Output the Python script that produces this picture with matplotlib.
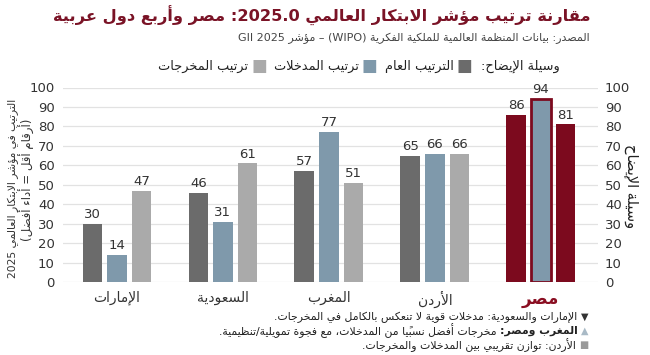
import matplotlib
matplotlib.use('Agg')
import matplotlib.pyplot as plt
import numpy as np

# ---------------- data ----------------
countries = ['الإمارات', 'السعودية', 'المغرب', 'الأردن', 'مصر']
overall = [30, 46, 57, 65, 86]
inputs = [14, 31, 77, 66, 94]
outputs = [47, 61, 51, 66, 81]
series_names = ['الترتيب العام', 'ترتيب المدخلات', 'ترتيب المخرجات']
yticks = [0, 10, 20, 30, 40, 50, 60, 70, 80, 90, 100]
title = 'مقارنة ترتيب مؤشر الابتكار العالمي 2025.0: مصر وأربع دول عربية'
subtitle = 'المصدر: بيانات المنظمة العالمية للملكية الفكرية (WIPO) – مؤشر GII 2025'
legend_title = 'وسيلة الإيضاح:'
ylabel_main = 'الترتيب في مؤشر الابتكار العالمي 2025'
ylabel_sub = '(أرقام أقل = أداء أفضل)'
right_label = 'وسيلة الإيضاح'
note_marks = ['▼', '▲', '■']
note_bold = ['', 'المغرب ومصر:', '']
note_text = ['الإمارات والسعودية: مدخلات قوية لا تنعكس بالكامل في المخرجات.',
             'مخرجات أفضل نسبيًا من المدخلات، مع فجوة تمويلية/تنظيمية.',
             'الأردن: توازن تقريبي بين المدخلات والمخرجات.']

# ---------------- colours ----------------
C_DARK = '#6b6b6b'
C_BLUE = '#7f99ab'
C_LIGHT = '#aaaaaa'
C_RED = '#7c0a1e'
C_TITLE = '#7a1326'
C_TEXT = '#333333'
note_colors = ['#333333', '#a9bac6', '#9a9a9a']

# ---------------- minimal Arabic shaping + bidi ----------------
DUAL = {'\u0626': 0xFE89, '\u0628': 0xFE8F, '\u062A': 0xFE95, '\u062B': 0xFE99,
        '\u062C': 0xFE9D, '\u062D': 0xFEA1, '\u062E': 0xFEA5, '\u0633': 0xFEB1,
        '\u0634': 0xFEB5, '\u0635': 0xFEB9, '\u0636': 0xFEBD, '\u0637': 0xFEC1,
        '\u0638': 0xFEC5, '\u0639': 0xFEC9, '\u063A': 0xFECD, '\u0641': 0xFED1,
        '\u0642': 0xFED5, '\u0643': 0xFED9, '\u0644': 0xFEDD, '\u0645': 0xFEE1,
        '\u0646': 0xFEE5, '\u0647': 0xFEE9, '\u064A': 0xFEF1}
RIGHT = {'\u0622': 0xFE81, '\u0623': 0xFE83, '\u0624': 0xFE85, '\u0625': 0xFE87,
         '\u0627': 0xFE8D, '\u0629': 0xFE93, '\u062F': 0xFEA9, '\u0630': 0xFEAB,
         '\u0631': 0xFEAD, '\u0632': 0xFEAF, '\u0648': 0xFEED, '\u0649': 0xFEEF}
LAMALEF = {'\u0622': 0xFEF5, '\u0623': 0xFEF7, '\u0625': 0xFEF9, '\u0627': 0xFEFB}


def _jt(c):
    if c in DUAL:
        return 'D'
    if c in RIGHT:
        return 'R'
    if 0x064B <= ord(c) <= 0x065F or c == '\u0670':
        return 'T'
    return 'U'


def _shape(s):
    n = len(s)
    res = []
    i = 0
    while i < n:
        c = s[i]
        t = _jt(c)
        if t in 'DR':
            j = i - 1
            while j >= 0 and _jt(s[j]) == 'T':
                j -= 1
            prev_join = j >= 0 and _jt(s[j]) == 'D'
            k = i + 1
            while k < n and _jt(s[k]) == 'T':
                k += 1
            if c == '\u0644' and k < n and s[k] in LAMALEF:
                res.append(chr(LAMALEF[s[k]] + (1 if prev_join else 0)))
                res.extend(s[i + 1:k])
                i = k + 1
                continue
            next_join = t == 'D' and k < n and _jt(s[k]) in 'DR'
            if t == 'R':
                res.append(chr(RIGHT[c] + (1 if prev_join else 0)))
            else:
                b = DUAL[c]
                if prev_join and next_join:
                    res.append(chr(b + 3))
                elif prev_join:
                    res.append(chr(b + 1))
                elif next_join:
                    res.append(chr(b + 2))
                else:
                    res.append(chr(b))
        else:
            res.append(c)
        i += 1
    return ''.join(res)


def _ctype(c):
    o = ord(c)
    if 0x0600 <= o <= 0x06FF or 0xFB50 <= o <= 0xFEFF:
        return 'R'
    if c.isascii() and c.isalnum():
        return 'L'
    return 'N'


MIRROR = {'(': ')', ')': '(', '[': ']', ']': '[', '<': '>', '>': '<'}


def _rev_clusters(t):
    clusters = []
    for c in t:
        if clusters and (0x064B <= ord(c) <= 0x065F or c == '\u0670'):
            clusters[-1] += c
        else:
            clusters.append(MIRROR.get(c, c))
    return ''.join(reversed(clusters))


def ar(s):
    if not any(_ctype(c) == 'R' for c in s):
        return s
    s = _shape(s)
    ty = [_ctype(c) for c in s]
    n = len(s)
    segs = []
    i = 0
    while i < n:
        if ty[i] == 'L':
            j = i
            last = i
            while j < n and ty[j] != 'R':
                if ty[j] == 'L':
                    last = j
                j += 1
            segs.append((True, s[i:last + 1]))
            i = last + 1
        else:
            j = i
            while j < n and ty[j] != 'L':
                j += 1
            segs.append((False, s[i:j]))
            i = j
    out = ''
    for ltr, t in reversed(segs):
        out += t if ltr else _rev_clusters(t)
    return out


# ---------------- figure ----------------
W, H, DPI = 650, 355, 100
plt.rcParams['font.family'] = ['DejaVu Sans']
fig = plt.figure(figsize=(W / DPI, H / DPI), dpi=DPI)
fig.patch.set_facecolor('white')


def fx(x):
    return x / W


def fy(y):
    return 1 - y / H


ax = fig.add_axes([fx(63), fy(282), fx(598) - fx(63), fy(87.5) - fy(282)])
x = np.arange(len(countries))
bw = 0.184
step = 0.233

n = len(countries)
c_over = [C_DARK] * (n - 1) + [C_RED]
c_in = [C_BLUE] * n
e_in = ['none'] * (n - 1) + [C_RED]
lw_in = [0] * (n - 1) + [2.0]
c_out = [C_LIGHT] * (n - 1) + [C_RED]

b1 = ax.bar(x - step, overall, bw, color=c_over, zorder=3)
b2 = ax.bar(x, inputs, bw, color=c_in, edgecolor=e_in, linewidth=lw_in, zorder=3)
b3 = ax.bar(x + step, outputs, bw, color=c_out, zorder=3)
for b in (b1, b2, b3):
    ax.bar_label(b, padding=2, fontsize=9.5, color=C_TEXT)

ax.set_xlim(-0.51, 4.54)
ax.set_ylim(0, 100)
ax.set_yticks(yticks)
ax.set_yticklabels([str(t) for t in yticks], fontsize=9.5, color=C_TEXT)
ax.yaxis.grid(True, color='#e2e2e2', linewidth=0.9, zorder=0)
ax.set_axisbelow(True)
for sp in ax.spines.values():
    sp.set_visible(False)
ax.tick_params(axis='both', length=0)
ax.tick_params(axis='y', pad=6)
ax.tick_params(axis='x', pad=6)
ax.set_xticks(x)
ax.set_xticklabels([ar(c) for c in countries], fontsize=10, color=C_TEXT)
lab = ax.get_xticklabels()[-1]
lab.set_fontweight('bold')
lab.set_color('#8a0e22')
lab.set_fontsize(12)

ax2 = ax.twinx()
ax2.set_ylim(0, 100)
ax2.set_yticks(yticks)
ax2.set_yticklabels([str(t) for t in yticks], fontsize=9.5, color=C_TEXT)
for sp in ax2.spines.values():
    sp.set_visible(False)
ax2.tick_params(axis='y', length=0, pad=5)

renderer = fig.canvas.get_renderer()


def fit(t, target, vertical=False):
    bb = t.get_window_extent(renderer)
    w = bb.height if vertical else bb.width
    t.set_fontsize(t.get_fontsize() * target / w)


# axis labels
yl1 = fig.text(fx(13), fy(188), ar(ylabel_main), rotation=90, ha='center', va='center',
               fontsize=9.5, color=C_TEXT)
fit(yl1, 182, vertical=True)
yl2 = fig.text(fx(27), fy(180), ar(ylabel_sub), rotation=90, ha='center', va='center',
               fontsize=8, color=C_TEXT)
fit(yl2, 122, vertical=True)
rl = fig.text(fx(632), fy(186), ar(right_label), rotation=270, ha='center', va='center',
              fontsize=11, color='#222222')
fit(rl, 84, vertical=True)

# title & subtitle
tt = fig.text(fx(591), fy(16), ar(title), ha='right', va='center', fontsize=15,
              fontweight='bold', color=C_TITLE)
fit(tt, 535)
st = fig.text(fx(590), fy(38), ar(subtitle), ha='right', va='center', fontsize=10,
              color='#444444')
fit(st, 353)


def chain(prev, s, gap, **kw):
    return ax.annotate(
        s, xy=(0, 0.5), xycoords=prev, xytext=(-gap * 72 / DPI, 0),
        textcoords='offset points', ha='right', va='center', annotation_clip=False, **kw)


# legend row
lt = fig.text(fx(560), fy(66), ar(legend_title), ha='right', va='center', fontsize=9.3,
              color='#222222')
prev = lt
for i, (name, col) in enumerate(zip(series_names, [C_DARK, C_BLUE, C_LIGHT])):
    sq = chain(prev, '■', 9 if i == 0 else 7, fontsize=12, color=col)
    prev = chain(sq, ar(name), 3, fontsize=9.3, color='#222222')

# notes
ys = [317, 331, 345]
for mk, bd, tx, mc, yy in zip(note_marks, note_bold, note_text, note_colors, ys):
    m = fig.text(fx(588), fy(yy), mk, ha='right', va='center', fontsize=7, color=mc)
    prev = m
    if bd:
        prev = chain(prev, ar(bd), 3, fontsize=7.8, fontweight='bold', color='#222222')
        prev = chain(prev, ar(tx), 3, fontsize=7.8, color='#222222')
    else:
        prev = chain(prev, ar(tx), 3, fontsize=7.8, color='#222222')

fig.savefig('out.png', dpi=DPI, facecolor='white')
